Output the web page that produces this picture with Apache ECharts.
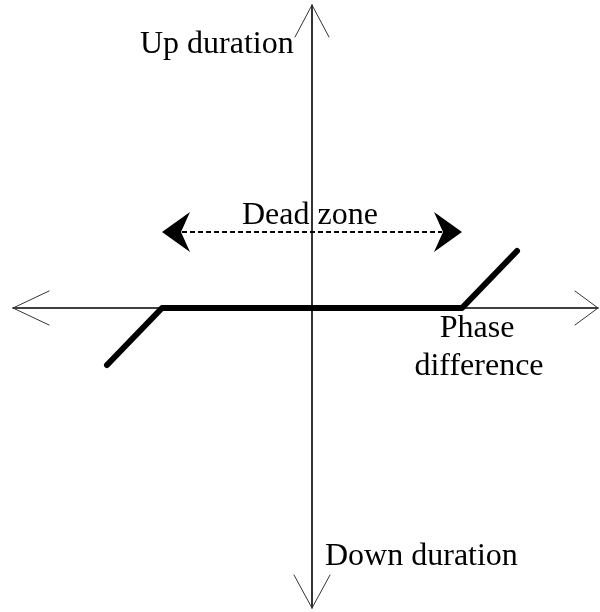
<!DOCTYPE html>
<html>
<head>
<meta charset="utf-8">
<script src="https://cdn.jsdelivr.net/npm/echarts@6/dist/echarts.min.js"></script>
<style>
  html, body { margin: 0; padding: 0; background: #fff; }
  #main { width: 600px; height: 612px; }
</style>
</head>
<body>
<div id="main"></div>
<script>
// diagram units: origin at the axis crossing
var xRange = [-6.24, 5.76];
var yRange = [-6.08, 6.16];

// the two axes (thin lines) and their open arrow heads
var horizAxis = [[-5.98, 0], [5.72, 0]];
var vertAxis = [[0, 6.06], [0, -6.0]];
var arrowWings = [
  [[-5.26, 0.34], [-5.98, 0], [-5.26, -0.34]],
  [[5.26, 0.34], [5.72, 0], [5.26, -0.34]],
  [[-0.34, 5.42], [0, 6.06], [0.34, 5.42]],
  [[-0.36, -5.34], [0, -6.0], [0.36, -5.34]]
];

// characteristic with dead zone
var curve = [[-4.1, -1.14], [-3, 0], [3, 0], [4.1, 1.14]];

// dead zone double arrow
var deadZoneLine = [[-2.6, 1.52], [2.6, 1.52]];
var deadZoneHeads = [
  [[-3, 1.52], [-2.44, 1.92], [-2.62, 1.52], [-2.44, 1.12]],
  [[3, 1.52], [2.44, 1.92], [2.62, 1.52], [2.44, 1.12]]
];

var chart = echarts.init(document.getElementById('main'));

function lineSeries(data, width, color, type) {
  return {
    type: 'line',
    data: data,
    symbol: 'none',
    silent: true,
    lineStyle: { width: width, color: color, type: type || 'solid', cap: 'round', join: 'round' }
  };
}

var series = [];
series.push(lineSeries(horizAxis, 1.6, '#000'));
series.push(lineSeries(vertAxis, 1.6, '#000'));
for (var i = 0; i < arrowWings.length; i++) {
  series.push(lineSeries(arrowWings[i], 1, '#333'));
}
series.push({
  type: 'line',
  data: deadZoneLine,
  symbol: 'none',
  silent: true,
  lineStyle: { width: 2, color: '#000', type: [5, 3], cap: 'butt' }
});
series.push(lineSeries(curve, 6, '#000'));
series.push({
  type: 'custom',
  silent: true,
  data: deadZoneHeads.map(function (h, idx) { return [idx]; }),
  renderItem: function (params, api) {
    var pts = deadZoneHeads[params.dataIndex].map(function (p) { return api.coord(p); });
    return { type: 'polygon', shape: { points: pts }, style: { fill: '#000' } };
  }
});

var font = '32px "Liberation Serif", "Times New Roman", serif';

var option = {
  animation: false,
  grid: { left: 0, right: 0, top: 0, bottom: 0 },
  xAxis: { type: 'value', min: xRange[0], max: xRange[1], show: false },
  yAxis: { type: 'value', min: yRange[0], max: yRange[1], show: false },
  series: series,
  graphic: [
    { type: 'text', left: 140, top: 29, style: { text: 'Up duration', font: font, fill: '#000' } },
    { type: 'text', left: 242, top: 200, style: { text: 'Dead zone', font: font, fill: '#000' } },
    { type: 'text', x: 477, y: 313, style: { text: 'Phase', font: font, fill: '#000', align: 'center' } },
    { type: 'text', x: 479, y: 351, style: { text: 'difference', font: font, fill: '#000', align: 'center' } },
    { type: 'text', left: 325, top: 541, style: { text: 'Down duration', font: font, fill: '#000' } }
  ]
};
chart.setOption(option);
</script>
</body>
</html>
